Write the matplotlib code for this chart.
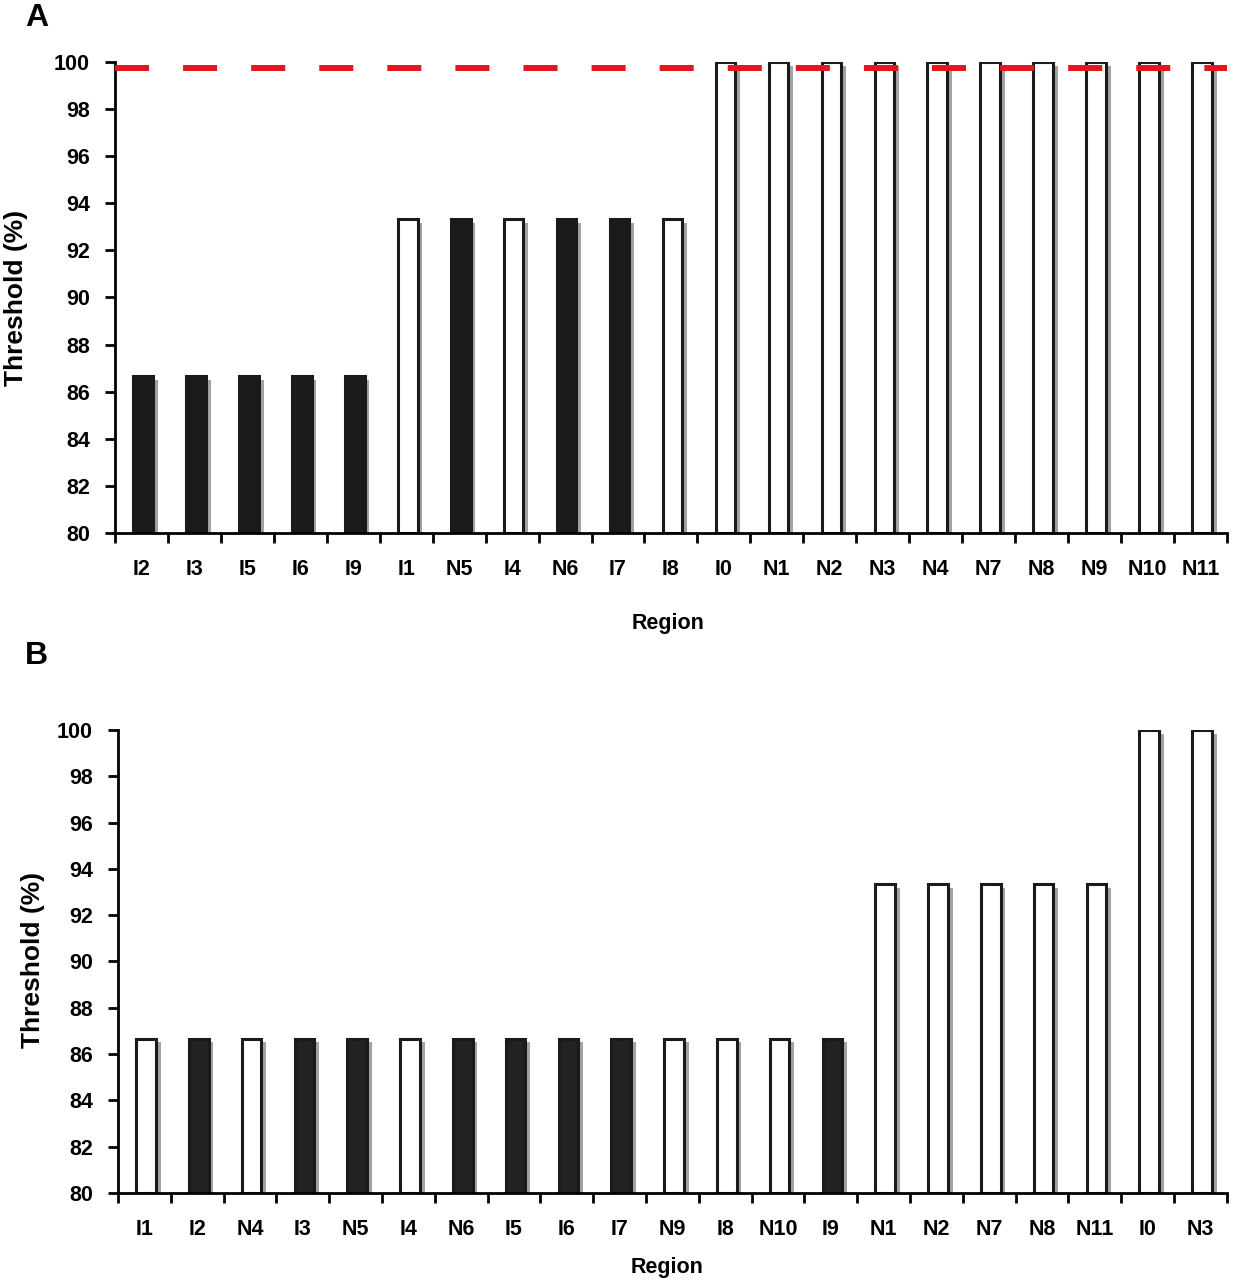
import numpy as np
import matplotlib.pyplot as plt

plt.rcParams['font.family'] = ['Liberation Sans', 'DejaVu Sans']
plt.rcParams['font.weight'] = 'bold'

# panel A
regions_a = ['I2', 'I3', 'I5', 'I6', 'I9', 'I1', 'N5', 'I4', 'N6', 'I7', 'I8',
             'I0', 'N1', 'N2', 'N3', 'N4', 'N7', 'N8', 'N9', 'N10', 'N11']
values_a = [86.67, 86.67, 86.67, 86.67, 86.67, 93.33, 93.33, 93.33, 93.33, 93.33, 93.33,
            100, 100, 100, 100, 100, 100, 100, 100, 100, 100]
dark_a = [1, 1, 1, 1, 1, 0, 1, 0, 1, 1, 0,
          0, 0, 0, 0, 0, 0, 0, 0, 0, 0]
cutoff_a = 99.75

# panel B
regions_b = ['I1', 'I2', 'N4', 'I3', 'N5', 'I4', 'N6', 'I5', 'I6', 'I7', 'N9',
             'I8', 'N10', 'I9', 'N1', 'N2', 'N7', 'N8', 'N11', 'I0', 'N3']
values_b = [86.67, 86.67, 86.67, 86.67, 86.67, 86.67, 86.67, 86.67, 86.67, 86.67, 86.67,
            86.67, 86.67, 86.67, 93.33, 93.33, 93.33, 93.33, 93.33, 100, 100]
dark_b = [0, 1, 0, 1, 1, 0, 1, 1, 1, 1, 0,
          0, 0, 1, 0, 0, 0, 0, 0, 0, 0]

fig = plt.figure(figsize=(12.33, 12.8), dpi=100)
axA = fig.add_axes([0.0933, 0.5836, 0.9017, 0.368])
axB = fig.add_axes([0.0957, 0.068, 0.8993, 0.3617])


def draw(ax, names, vals, dark, black, ylab_xy, xlab_xy):
    x = np.arange(len(names))
    vals = np.array(vals)
    # grey drop shadow
    ax.bar(x + 0.12, vals - 80 - 0.17, bottom=80, width=0.37, color='#a3a3a3',
           edgecolor='none', zorder=1)
    cols = [black if d else 'white' for d in dark]
    ax.bar(x + 0.03, vals - 80, bottom=80, width=0.37, color=cols,
           edgecolor='#1a1a1a', linewidth=2.2, zorder=2)
    ax.set_xlim(-0.5, len(names) - 0.5)
    ax.set_ylim(80, 100)
    ax.set_yticks(np.arange(80, 101, 2))
    ax.set_xticks(x)
    ax.set_xticklabels(names)
    ax.set_xticks(np.arange(-0.5, len(names), 1), minor=True)
    ax.tick_params(axis='x', which='major', length=0, pad=19, labelsize=15.5)
    ax.tick_params(axis='x', which='minor', length=7, width=2, direction='out')
    ax.tick_params(axis='y', length=7, width=2, pad=11, labelsize=15.5)
    for s in ['top', 'right']:
        ax.spines[s].set_visible(False)
    for s in ['left', 'bottom']:
        ax.spines[s].set_linewidth(2)
    ax.set_ylabel('Threshold (%)', fontsize=19, fontweight='bold', va='center')
    ax.set_xlabel('Region', fontsize=15.5, fontweight='bold', va='center')
    ax.yaxis.set_label_coords(*ylab_xy)
    ax.xaxis.set_label_coords(*xlab_xy)


draw(axA, regions_a, values_a, dark_a, '#1a1a1a', (-0.0895, 0.5), (0.497, -0.193))
draw(axB, regions_b, values_b, dark_b, '#222222', (-0.077, 0.503), (0.495, -0.162))

axA.axhline(cutoff_a, color='#e5151e', linewidth=4.3, dashes=(5.7, 5.7),
            zorder=3, clip_on=False)

fig.text(0.0203, 0.9797, 'A', fontsize=23, fontweight='bold', va='baseline')
fig.text(0.0203, 0.481, 'B', fontsize=23, fontweight='bold', va='baseline')

fig.savefig('out.png', dpi=100)
